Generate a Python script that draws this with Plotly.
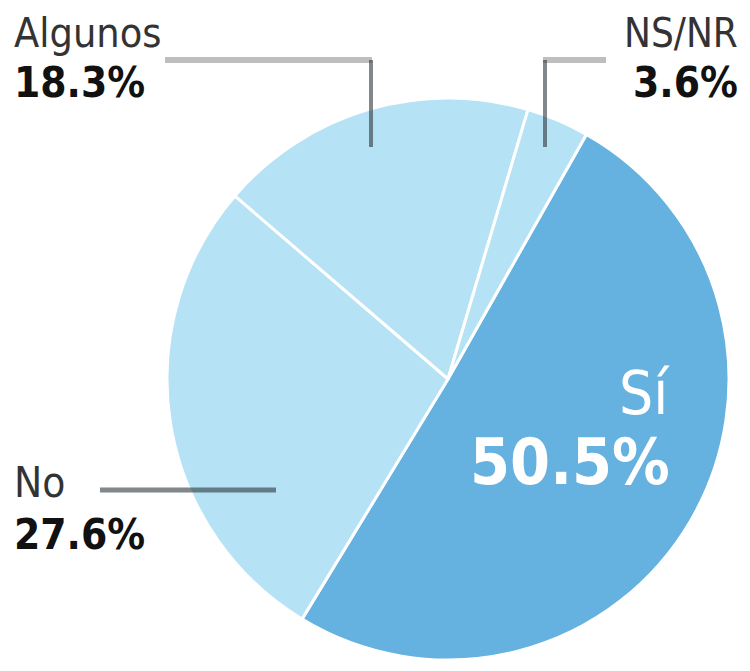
import plotly.graph_objects as go

W, H = 750, 671
OFF = 8  # default page body margin

labels = ["Sí", "No", "Algunos", "NS/NR"]
values = [50.5, 27.6, 18.3, 3.6]
colors = ["#65B1DF", "#B6E2F5", "#B6E2F5", "#B6E2F5"]

def px(x):
    return (x - OFF) / W

def py(y):
    return 1 - (y - OFF) / H

cx, cy, r = 448, 379, 281

fig = go.Figure(go.Pie(
    labels=labels,
    values=values,
    sort=False,
    direction="clockwise",
    rotation=29.5,
    marker=dict(colors=colors, line=dict(color="white", width=3)),
    textinfo="none",
    hoverinfo="label+percent",
    domain=dict(x=[px(cx - r), px(cx + r)], y=[py(cy + r), py(cy - r)]),
    showlegend=False,
))

FONT = "DejaVu Sans Condensed, Liberation Sans Narrow, Arial Narrow, sans-serif"
ann = []

def label(text, x, y, size, color, bold, xanchor):
    t = f"<b>{text}</b>" if bold else text
    ann.append(dict(text=t, x=px(x), y=py(y), xref="paper", yref="paper",
                    xanchor=xanchor, yanchor="middle", showarrow=False,
                    font=dict(family=FONT, size=size, color=color)))

pct = [f"{v}%" for v in values]
# Algunos
label(labels[2], 12, 33, 41, "#333333", False, "left")
label(pct[2], 12, 82, 42, "#111111", True, "left")
# NS/NR
label(labels[3], 740, 33, 40, "#333333", False, "right")
label(pct[3], 740, 82, 42, "#111111", True, "right")
# No
label(labels[1], 12, 482, 42, "#333333", False, "left")
label(pct[1], 12, 534, 42, "#111111", True, "left")
# Sí
label(labels[0], 672, 393, 60, "white", False, "right")
label(pct[0], 672, 462, 64, "white", True, "right")

shapes = []
def seg(x0, y0, x1, y1, color, w):
    shapes.append(dict(type="line", xref="paper", yref="paper",
                       x0=px(x0), y0=py(y0), x1=px(x1), y1=py(y1),
                       line=dict(color=color, width=w)))

light = "#BEBEBE"
dark = "rgba(45,55,60,0.6)"
# Algunos leader
seg(165, 60, 372, 60, light, 6)
seg(371, 60, 371, 147, dark, 4)
# NS/NR leader
seg(543, 60, 606, 60, light, 6)
seg(545, 60, 545, 147, dark, 4)
# No leader
seg(100, 490, 276, 490, dark, 5)

fig.update_layout(
    width=W, height=H,
    margin=dict(l=0, r=0, t=0, b=0),
    paper_bgcolor="white", plot_bgcolor="white",
    annotations=ann, shapes=shapes,
)

fig.write_html("out.html")
